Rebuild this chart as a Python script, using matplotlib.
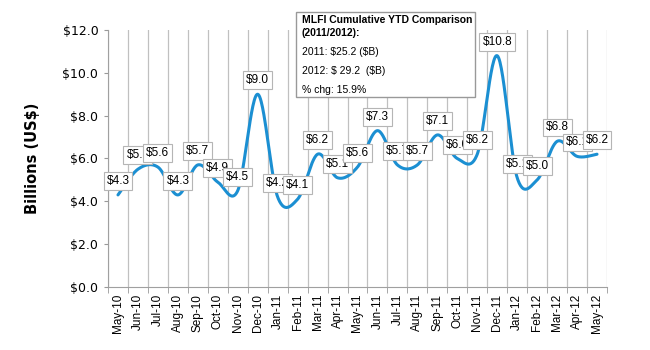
import numpy as np
import matplotlib.pyplot as plt
from matplotlib.patches import Rectangle

months = ['May-10', 'Jun-10', 'Jul-10', 'Aug-10', 'Sep-10', 'Oct-10', 'Nov-10',
          'Dec-10', 'Jan-11', 'Feb-11', 'Mar-11', 'Apr-11', 'May-11', 'Jun-11',
          'Jul-11', 'Aug-11', 'Sep-11', 'Oct-11', 'Nov-11', 'Dec-11', 'Jan-12',
          'Feb-12', 'Mar-12', 'Apr-12', 'May-12']
values = [4.3, 5.5, 5.6, 4.3, 5.7, 4.9, 4.5, 9.0, 4.2, 4.1, 6.2, 5.1, 5.6,
          7.3, 5.7, 5.7, 7.1, 6.0, 6.2, 10.8, 5.1, 5.0, 6.8, 6.1, 6.2]
yticks = [0, 2, 4, 6, 8, 10, 12]

box_title = 'MLFI Cumulative YTD Comparison\n(2011/2012):'
box_lines = [r'2011: \$25.2 (\$B)', r'2012: \$ 29.2  (\$B)', '% chg: 15.9%']

line_color = '#1b8fd2'
grid_color = '#c0c0c0'


def smooth(x, y, n=30):
    # Catmull-Rom style smoothing, like Excel's "smoothed line"
    x = np.asarray(x, float)
    y = np.asarray(y, float)
    px = np.concatenate([[x[0]], x, [x[-1]]])
    py = np.concatenate([[y[0]], y, [y[-1]]])
    xs, ys = [], []
    t = np.linspace(0, 1, n)
    for i in range(1, len(px) - 2):
        p0, p1, p2, p3 = [np.array([px[j], py[j]]) for j in range(i - 1, i + 3)]
        c1 = p1 + (p2 - p0) / 6
        c2 = p2 - (p3 - p1) / 6
        pts = ((1 - t) ** 3)[:, None] * p1 + (3 * (1 - t) ** 2 * t)[:, None] * c1 \
            + (3 * (1 - t) * t ** 2)[:, None] * c2 + (t ** 3)[:, None] * p2
        xs.extend(pts[:, 0])
        ys.extend(pts[:, 1])
    return np.array(xs), np.array(ys)


fig = plt.figure(figsize=(6.5, 3.5), dpi=100)
ax = fig.add_axes([108 / 650, 63 / 350, 499 / 650, 257 / 350])

x = np.arange(len(months))
sx, sy = smooth(x, values)
ax.plot(sx, sy, color=line_color, lw=2.2, zorder=3, solid_capstyle='round')

for xi, v in zip(x, values):
    ax.annotate(f'${v:.1f}', (xi, v), xytext=(0, 10), textcoords='offset points',
                ha='center', va='center', fontsize=8.5, family='Liberation Sans',
                zorder=4,
                bbox=dict(boxstyle='square,pad=0.25', fc='white', ec='#b5b5b5', lw=0.8))

ax.set_xlim(-0.5, len(months) - 0.5)
ax.set_ylim(0, 12)
ax.set_xticks(x)
ax.set_xticklabels(months, rotation=90, fontsize=8.5, family='Liberation Sans')
ax.set_xticks(np.arange(-0.5, len(months), 1), minor=True)
ax.tick_params(axis='x', which='major', length=0, pad=5)
ax.tick_params(axis='x', which='minor', length=4, color='#999999', direction='out')
ax.grid(True, axis='x', which='minor', color=grid_color, lw=0.9, zorder=0)

ax.set_yticks(yticks)
ax.set_yticklabels([f'${v:.1f}' for v in yticks], fontsize=9)
ax.tick_params(axis='y', length=3, color='#999999', pad=4)
ax.set_ylabel('Billions (US$)', fontsize=10.5, fontweight='bold', labelpad=16)

for s in ['top', 'right']:
    ax.spines[s].set_visible(False)
for s in ['left', 'bottom']:
    ax.spines[s].set_color('#a0a0a0')

# summary box
fig.patches.append(Rectangle((296 / 650, 1 - 97 / 350), 179 / 650, 85 / 350,
                             transform=fig.transFigure, fc='white', ec='#999999',
                             lw=1.0, zorder=5))
fig.text(302 / 650, 1 - 15 / 350, box_title, fontsize=7.5, fontweight='bold',
         family='Liberation Sans', va='top', ha='left', linespacing=1.35, zorder=6)
for i, line in enumerate(box_lines):
    fig.text(302 / 650, 1 - (52 + 19 * i) / 350, line, fontsize=7.5,
             family='Liberation Sans', va='center', ha='left', zorder=6)

fig.savefig('out.png', dpi=100)
